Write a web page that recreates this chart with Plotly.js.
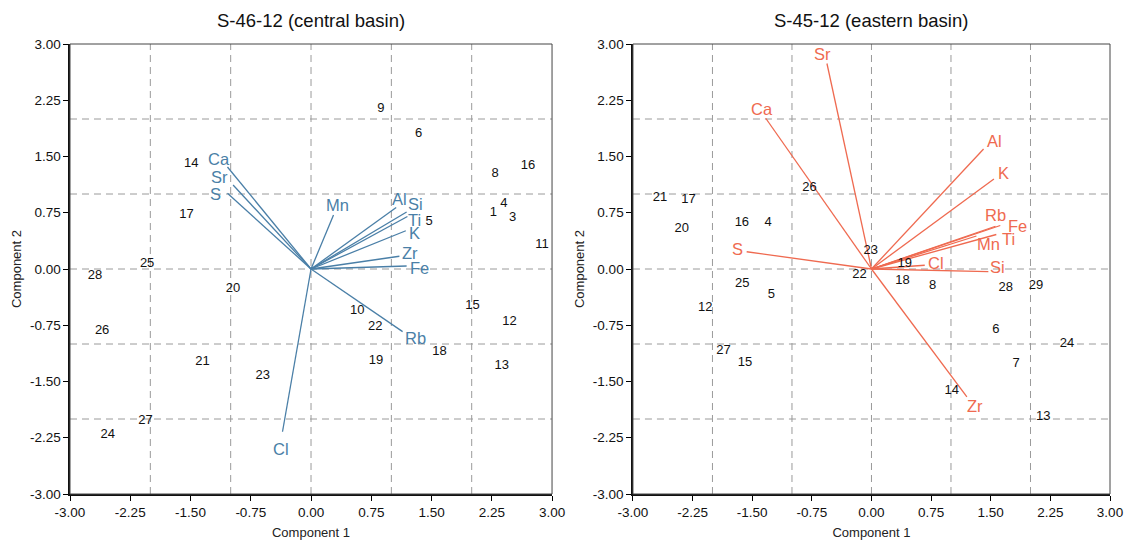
<!DOCTYPE html>
<html>
<head>
<meta charset="utf-8">
<script src="https://cdn.plot.ly/plotly-3.0.1.min.js"></script>
<style>html,body{margin:0;padding:0;background:#fff;}#chart{width:1126px;height:540px;}</style>
</head>
<body>
<div id="chart"></div>
<script>
// ---------- DATA ----------
// S-46-12 (central basin): sample scores
const leftSampleIds = ['1','3','4','5','6','8','9','10','11','12','13','14','15','16','17','18','19','20','21','22','23','24','25','26','27','28'];
const leftSampleX = [2.27, 2.51, 2.40, 1.47, 1.34, 2.29, 0.87, 0.575, 2.875, 2.47, 2.375, -1.49, 2.01, 2.70, -1.55, 1.60, 0.81, -0.97, -1.35, 0.80, -0.60, -2.53, -2.04, -2.60, -2.06, -2.69];
const leftSampleY = [0.75, 0.68, 0.875, 0.63, 1.80, 1.27, 2.14, -0.555, 0.33, -0.70, -1.29, 1.41, -0.49, 1.38, 0.73, -1.10, -1.225, -0.26, -1.23, -0.77, -1.42, -2.21, 0.076, -0.82, -2.02, -0.09];
// S-46-12: variable loadings
const leftVarNames = ['Ca','Sr','S','Mn','Al','Si','Ti','K','Zr','Fe','Rb','Cl'];
const leftVarX = [-1.04, -0.97, -1.04, 0.28, 1.06, 1.19, 1.20, 1.18, 1.10, 1.19, 1.14, -0.355];
const leftVarY = [1.36, 1.12, 1.01, 0.72, 0.82, 0.76, 0.70, 0.51, 0.17, 0.04, -0.835, -2.17];

// S-45-12 (eastern basin): sample scores
const rightSampleIds = ['4','5','6','7','8','12','13','14','15','16','17','18','19','20','21','22','23','24','25','26','27','28','29'];
const rightSampleX = [-1.30, -1.26, 1.565, 1.82, 0.77, -2.09, 2.16, 1.01, -1.59, -1.63, -2.30, 0.39, 0.42, -2.385, -2.66, -0.15, -0.01, 2.46, -1.625, -0.78, -1.86, 1.69, 2.07];
const rightSampleY = [0.62, -0.34, -0.81, -1.26, -0.22, -0.52, -1.97, -1.62, -1.25, 0.62, 0.92, -0.15, 0.075, 0.54, 0.95, -0.08, 0.25, -0.99, -0.19, 1.09, -1.09, -0.25, -0.22];
// S-45-12: variable loadings
const rightVarNames = ['Sr','Ca','S','Al','K','Rb','Fe','Ti','Mn','Cl','Si','Zr'];
const rightVarX = [-0.56, -1.33, -1.57, 1.41, 1.54, 1.56, 1.62, 1.57, 1.32, 0.67, 1.47, 1.20];
const rightVarY = [2.74, 2.01, 0.23, 1.60, 1.20, 0.57, 0.58, 0.46, 0.44, 0.05, -0.035, -1.705];

const axisTicks = [-3, -2.25, -1.5, -0.75, 0, 0.75, 1.5, 2.25, 3];
const gridVals = [-2, -1, 0, 1, 2];

// ---------- STYLE ----------
const FONT = '"Liberation Sans", Arial, sans-serif';
const leftColor = '#4a7fa7';
const rightColor = '#ef6a50';
// label offsets from the arrow tip, in screen pixels [dx, dy-up]
const leftLabelShift = {Ca:[-8,8], Sr:[-14,8], S:[-12,-1], Mn:[4,10], Al:[3,9], Si:[9,8], Ti:[7,-3], K:[9,-2], Zr:[11,3], Fe:[13,-1.5], Rb:[13,-6.5], Cl:[-2,-17]};
const rightLabelShift = {Sr:[-4.6,9.3], Ca:[-4,9.3], S:[-9,3], Al:[11,7.6], K:[10,5.7], Rb:[0,11.7], Fe:[17.6,-0.7], Ti:[12.3,-4.3], Mn:[11.6,-8.3], Cl:[11,2.7], Si:[9,5], Zr:[8.3,-9]};

function vectorTrace(names, xs, ys, color, xa, ya) {
  const lx = [], ly = [];
  names.forEach((n, i) => { lx.push(0, xs[i], null); ly.push(0, ys[i], null); });
  return {type:'scatter', mode:'lines', x:lx, y:ly, xaxis:xa, yaxis:ya,
     line:{color:color, width:1.3}, hoverinfo:'skip', showlegend:false};
}
function vectorLabels(names, xs, ys, color, shiftMap, xa, ya) {
  return names.map((n, i) => ({
    text:n, x:xs[i], y:ys[i], xref:xa, yref:ya, showarrow:false,
    xanchor:'center', yanchor:'middle', xshift:shiftMap[n][0], yshift:shiftMap[n][1],
    font:{family:FONT, size:16.5, color:color}
  }));
}
function sampleTrace(ids, xs, ys, xa, ya) {
  return {type:'scatter', mode:'text', x:xs, y:ys, text:ids, xaxis:xa, yaxis:ya,
    textposition:'middle center', textfont:{family:FONT, size:13, color:'#111'},
    hoverinfo:'skip', showlegend:false, cliponaxis:false};
}

const traces = [
  vectorTrace(leftVarNames, leftVarX, leftVarY, leftColor, 'x', 'y'),
  sampleTrace(leftSampleIds, leftSampleX, leftSampleY, 'x', 'y'),
  vectorTrace(rightVarNames, rightVarX, rightVarY, rightColor, 'x2', 'y2'),
  sampleTrace(rightSampleIds, rightSampleX, rightSampleY, 'x2', 'y2')
];

function axis(domain, anchor, titleText, standoff) {
  return {
    domain:domain, anchor:anchor, range:[-3, 3], tickmode:'array', tickvals:axisTicks,
    ticktext:axisTicks.map(v => v.toFixed(2)), ticks:'outside', ticklen:5, tickwidth:1, tickcolor:'#000',
    showgrid:false, zeroline:false, showline:true, linecolor:'#111', linewidth:1.6, mirror:false,
    tickfont:{family:FONT, size:13.5, color:'#111'}, fixedrange:true,
    title:{text:titleText, font:{family:FONT, size:13, color:'#222'}, standoff:standoff}
  };
}

const shapes = [];
[['x','y'], ['x2','y2']].forEach(([xa, ya]) => {
  gridVals.forEach(v => {
    shapes.push({type:'line', xref:xa, yref:ya + ' domain', x0:v, x1:v, y0:0, y1:1, layer:'below',
      line:{color:'#9a9a9a', width:1, dash:'7px,5px'}});
    shapes.push({type:'line', xref:xa + ' domain', yref:ya, x0:0, x1:1, y0:v, y1:v, layer:'below',
      line:{color:'#9a9a9a', width:1, dash:'7px,5px'}});
  });
  shapes.push({type:'rect', xref:xa + ' domain', yref:ya + ' domain', x0:0, x1:1, y0:0, y1:1,
    line:{color:'#444', width:1}, layer:'above'});
});

const layout = {
  width:1126, height:540, paper_bgcolor:'#fff', plot_bgcolor:'#fff',
  margin:{l:70, r:16, t:44, b:46}, showlegend:false,
  font:{family:FONT},
  xaxis: axis([0, 0.4635], 'y', 'Component 1', 22),
  yaxis: axis([0, 1], 'x', 'Component 2', 5),
  xaxis2: axis([0.5413, 1.0], 'y2', 'Component 1', 24),
  yaxis2: axis([0, 1], 'x2', 'Component 2', 5),
  shapes: shapes,
  annotations: [
    {text:'S-46-12 (central basin)', xref:'x domain', yref:'paper', x:0.5, y:1, yshift:36, yanchor:'top',
     showarrow:false, font:{family:FONT, size:18.5, color:'#111'}},
    {text:'S-45-12 (eastern basin)', xref:'x2 domain', yref:'paper', x:0.5, y:1, yshift:36, yanchor:'top',
     showarrow:false, font:{family:FONT, size:18.5, color:'#111'}},
    ...vectorLabels(leftVarNames, leftVarX, leftVarY, leftColor, leftLabelShift, 'x', 'y'),
    ...vectorLabels(rightVarNames, rightVarX, rightVarY, rightColor, rightLabelShift, 'x2', 'y2')
  ]
};

Plotly.newPlot('chart', traces, layout, {staticPlot:true, displayModeBar:false});
</script>
</body>
</html>
